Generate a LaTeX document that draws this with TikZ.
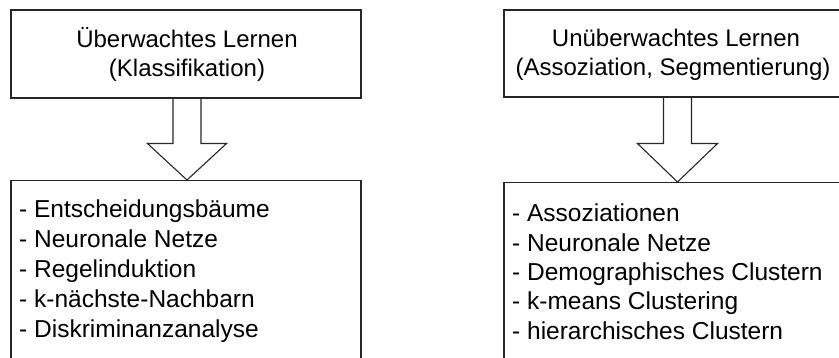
\documentclass[tikz,border=0pt]{standalone}
\usepackage{fontspec}
\setmainfont{Liberation Sans}
\begin{document}
\begin{tikzpicture}[x=1pt,y=-1pt,
  box/.style={draw=black!85, line width=1.1pt, rectangle, inner sep=0pt},
  blockarrow/.style={draw=black!85, line width=1.1pt, line join=miter},
  title/.style={font=\fontsize{24}{29}\selectfont, inner sep=0pt, anchor=base},
  item/.style={font=\fontsize{24.5}{30}\selectfont, inner sep=0pt, anchor=base west}]
\useasboundingbox (0,0) rectangle (839,358);
\clip (0,0) rectangle (839,358);

% header boxes
\node[box, minimum width=350pt, minimum height=88pt] (sup) at (186,54) {};
\node[box, minimum width=342pt, minimum height=87pt] (uns) at (675,53.5) {};

% method boxes (running past the lower edge)
\node[box, minimum width=350pt, minimum height=240pt, anchor=north] (supm) at (186,180) {};
\node[box, minimum width=342pt, minimum height=240pt, anchor=north] (unsm) at (675,182) {};

% header texts
\node[title] (sup1) at (187,48) {Überwachtes Lernen};
\node[title] (sup2) at (187,77) {(Klassifikation)};
\node[title] (uns1) at (676,47) {Unüberwachtes Lernen};
\node[title] (uns2) at (673,76) {(Assoziation, Segmentierung)};

% block arrows
\coordinate (la) at ([xshift=1pt]sup.south);
\coordinate (lt) at ([xshift=1pt]supm.north);
\draw[blockarrow] ([xshift=-14pt]la) -- ([xshift=-14pt,yshift=-45pt]la)
  -- ([xshift=-39.5pt,yshift=-45pt]la) -- (lt)
  -- ([xshift=39.5pt,yshift=-45pt]la) -- ([xshift=14pt,yshift=-45pt]la)
  -- ([xshift=14pt]la);

\coordinate (ra) at ([xshift=2.5pt]uns.south);
\coordinate (rt) at ([xshift=2.5pt]unsm.north);
\draw[blockarrow] ([xshift=-14pt]ra) -- ([xshift=-14pt,yshift=-46pt]ra)
  -- ([xshift=-40pt,yshift=-46pt]ra) -- (rt)
  -- ([xshift=40pt,yshift=-46pt]ra) -- ([xshift=14pt,yshift=-46pt]ra)
  -- ([xshift=14pt]ra);

% method lists
\foreach \t [count=\i] in {Entscheidungsbäume, Neuronale Netze, Regelinduktion,
    k-nächste-Nachbarn, Diskriminanzanalyse}
  \node[item] (supl\i) at (19,{218+29.8*(\i-1)}) {- \t};
\foreach \t [count=\i] in {Assoziationen, Neuronale Netze, Demographisches Clustern,
    k-means Clustering, hierarchisches Clustern}
  \node[item] (unsl\i) at (512,{222+29.3*(\i-1)}) {- \t};
\end{tikzpicture}
\end{document}
